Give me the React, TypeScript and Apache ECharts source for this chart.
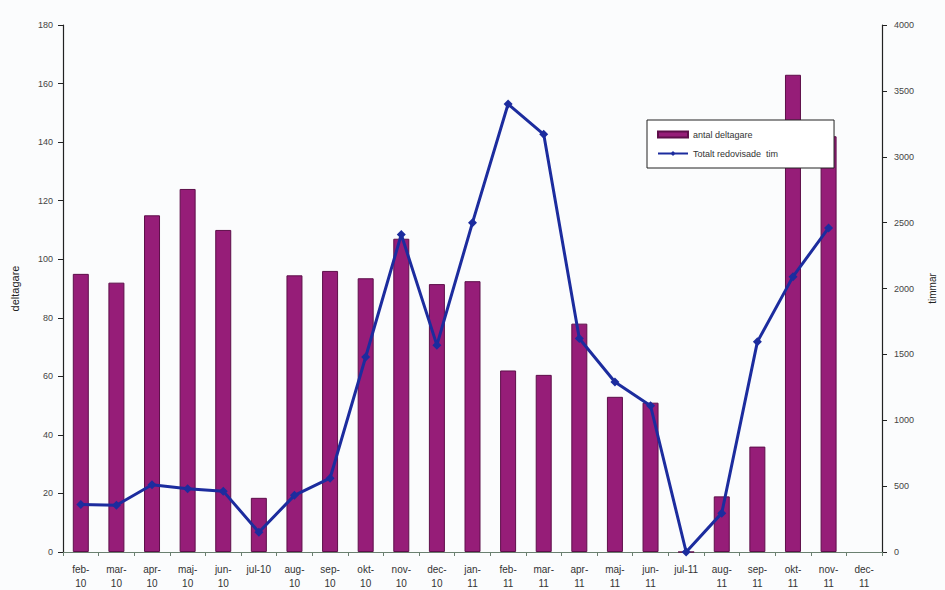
import React, { useEffect, useRef } from "react";
import * as echarts from "echarts";

const categories = [
  "feb-\n10", "mar-\n10", "apr-\n10", "maj-\n10", "jun-\n10", "jul-10", "aug-\n10", "sep-\n10",
  "okt-\n10", "nov-\n10", "dec-\n10", "jan-\n11", "feb-\n11", "mar-\n11", "apr-\n11", "maj-\n11",
  "jun-\n11", "jul-11", "aug-\n11", "sep-\n11", "okt-\n11", "nov-\n11", "dec-\n11",
];

const deltagare = [95, 92, 115, 124, 110, 18.5, 94.5, 96, 93.5, 107, 91.5, 92.5, 62, 60.5, 78, 53, 51, 0, 19, 36, 163, 142, null];

const timmar = [360, 355, 510, 480, 462, 150, 430, 560, 1480, 2410, 1570, 2500, 3400, 3170, 1620, 1290, 1110, 0, 295, 1595, 2090, 2460, null];

const leftTicks = { min: 0, max: 180, interval: 20 };
const rightTicks = { min: 0, max: 4000, interval: 500 };

export default function App() {
  const ref = useRef<HTMLDivElement>(null);
  useEffect(() => {
    if (!ref.current) return;
    const chart = echarts.init(ref.current, undefined, { renderer: "svg" });
    const font = "Liberation Sans, Arial, sans-serif";
    chart.setOption({
      animation: false,
      backgroundColor: "#fbfcfd",
      textStyle: { fontFamily: font },
      grid: { left: 63, right: 57, top: 25, bottom: 38 },
      legend: {
        left: 647,
        top: 120,
        orient: "vertical",
        padding: [10, 56, 10, 10],
        itemGap: 10,
        itemWidth: 30,
        itemHeight: 6,
        borderColor: "#222",
        borderWidth: 1,
        backgroundColor: "#ffffff",
        textStyle: { fontSize: 9, color: "#333", fontFamily: font },
        data: [
          { name: "antal deltagare", icon: "rect" },
          { name: "Totalt redovisade  tim" },
        ],
      },
      xAxis: {
        type: "category",
        data: categories,
        axisLine: { lineStyle: { color: "#6a8070", width: 1 } },
        axisTick: { show: true, length: 4, inside: false, lineStyle: { color: "#6a8070" } },
        axisLabel: { fontSize: 10, color: "#333", lineHeight: 14, margin: 10, interval: 0 },
      },
      yAxis: [
        {
          type: "value",
          ...leftTicks,
          name: "deltagare",
          nameLocation: "middle",
          nameRotate: 90,
          nameGap: 43,
          nameTextStyle: { fontSize: 11, color: "#222" },
          splitLine: { show: false },
          axisLine: { show: true, lineStyle: { color: "#222", width: 1.2 } },
          axisTick: { show: true, length: 5, lineStyle: { color: "#222" } },
          axisLabel: { fontSize: 9, color: "#444", margin: 10 },
        },
        {
          type: "value",
          ...rightTicks,
          position: "right",
          name: "timmar",
          nameLocation: "middle",
          nameRotate: 90,
          nameGap: 45,
          nameTextStyle: { fontSize: 10, color: "#222" },
          splitLine: { show: false },
          axisLine: { show: true, lineStyle: { color: "#222", width: 1.2 } },
          axisTick: { show: true, length: 5, lineStyle: { color: "#222" } },
          axisLabel: { fontSize: 9, color: "#444", margin: 12, formatter: (v: number) => String(v) },
        },
      ],
      series: [
        {
          name: "antal deltagare",
          type: "bar",
          yAxisIndex: 0,
          data: deltagare,
          barWidth: 16,
          itemStyle: { color: "#961d78", borderColor: "#5e0f4a", borderWidth: 1 },
        },
        {
          name: "Totalt redovisade  tim",
          type: "line",
          yAxisIndex: 1,
          data: timmar,
          symbol: "diamond",
          symbolSize: 9,
          lineStyle: { color: "#1c2c9e", width: 3 },
          itemStyle: { color: "#1c2c9e" },
        },
      ],
    });
    return () => chart.dispose();
  }, []);
  return (
    <div
      ref={ref}
      style={{ position: "absolute", left: 0, top: 0, width: 945, height: 590 }}
    />
  );
}
